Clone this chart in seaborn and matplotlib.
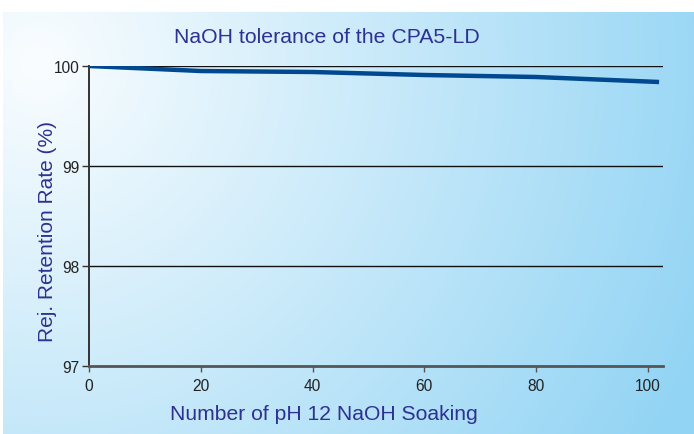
import numpy as np
import pandas as pd
import matplotlib
matplotlib.use("Agg")
import matplotlib.pyplot as plt
import seaborn as sns

# ---- data ----
soak_counts = [0, 20, 40, 60, 80, 102]
retention = [100.0, 99.95, 99.94, 99.91, 99.89, 99.84]
x_ticks = [0, 20, 40, 60, 80, 100]
y_ticks = [97, 98, 99, 100]
title_text = "NaOH tolerance of the CPA5-LD"
x_label = "Number of pH 12 NaOH Soaking"
y_label = "Rej. Retention Rate (%)"

sns.set_theme(style="white")
plt.rcParams["font.family"] = ["Liberation Sans", "DejaVu Sans"]

W, H = 694, 435
fig = plt.figure(figsize=(W / 100, H / 100), dpi=100)
fig.patch.set_facecolor("white")

# gradient background panel
bg = fig.add_axes([3 / W, 0, (W - 3) / W, (H - 13) / H])
bg.set_axis_off()
nx, ny = 400, 250
u = np.linspace(0, 1, nx)[None, :]
v = np.linspace(0, 1, ny)[:, None]
aspect = (H - 13) / (W - 3)
d = np.sqrt((u - 0.05) ** 2 + ((v - 0.12) * aspect) ** 2)
t = np.clip(d * 0.95, 0, 1)[..., None]
c0 = np.array([250, 253, 255]) / 255
c1 = np.array([146, 212, 244]) / 255
img = c0 * (1 - t) + c1 * t
bg.imshow(img, aspect="auto", extent=[0, 1, 0, 1], origin="upper")

ax = fig.add_axes([89 / W, 1 - 367 / H, (663 - 89) / W, 300 / H])
ax.patch.set_alpha(0)

df = pd.DataFrame({"soak": soak_counts, "ret": retention})
sns.lineplot(data=df, x="soak", y="ret", ax=ax, color="#00488f", lw=3.2,
             solid_capstyle="butt", zorder=3)

ax.set_xlim(0, 102.7)
ax.set_ylim(97, 100)
ax.set_xticks(x_ticks)
ax.set_yticks(y_ticks)
for yv in y_ticks[1:]:
    ax.axhline(yv, color="#111111", lw=1.0, zorder=2)

for s in ["top", "right"]:
    ax.spines[s].set_visible(False)
ax.spines["left"].set_color("#333333")
ax.spines["left"].set_linewidth(1.4)
ax.spines["bottom"].set_color("#555555")
ax.spines["bottom"].set_linewidth(2.0)
ax.tick_params(axis="x", direction="out", length=4, width=1, color="#555555",
               labelsize=11.2, labelcolor="#222222", pad=5, bottom=True)
ax.tick_params(axis="y", direction="out", length=5, width=1, color="#333333",
               labelsize=11.2, labelcolor="#222222", pad=2, left=True)

blue = "#2e3192"
ax.set_xlabel(x_label, fontsize=15.2, color=blue)
ax.xaxis.set_label_coords(0.41, -0.157)
ax.xaxis.label.set_va("center")
ax.set_ylabel(y_label, fontsize=15, color=blue)
ax.yaxis.set_label_coords(-0.073, 0.45)
ax.yaxis.label.set_va("center")
ax.text(0.415, 1.097, title_text, transform=ax.transAxes, ha="center",
        va="center", fontsize=15.3, color=blue)

fig.savefig("out.png", dpi=100)
